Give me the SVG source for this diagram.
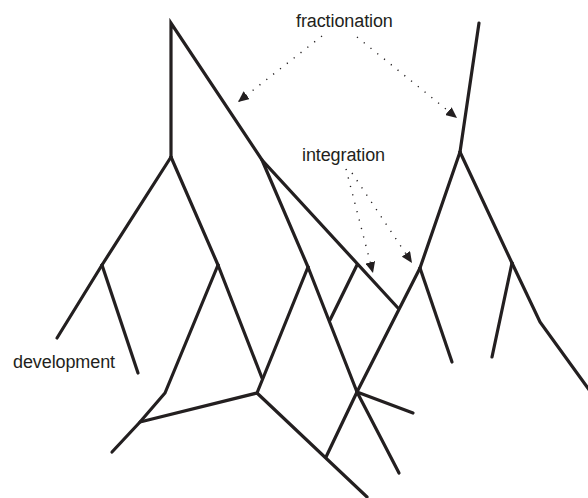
<svg xmlns="http://www.w3.org/2000/svg" width="588" height="498" viewBox="0 0 588 498">
<style>
.br{fill:none;stroke:#231f20;stroke-width:3.2;stroke-linecap:round;stroke-linejoin:miter}
.dot{fill:none;stroke:#231f20;stroke-width:1.4;stroke-dasharray:1.2 7.5;stroke-linecap:butt}
.lbl{font-family:"Liberation Sans",Arial,sans-serif;font-size:18px;fill:#231f20;letter-spacing:-0.1px}
</style>
<defs>
<marker id="ah" markerUnits="userSpaceOnUse" markerWidth="12" markerHeight="10" refX="11" refY="5" orient="auto">
<path d="M0,0 L11,5 L0,10 Z" fill="#231f20"/>
</marker>
</defs>
<rect width="588" height="498" fill="#ffffff"/>
<g id="connectors">
<g id="left-tree">
<polyline class="br" points="171,157 171,23 262,160 398,308"/>
<line class="br" x1="262" y1="160" x2="308" y2="267"/>
<line class="br" x1="308" y1="267" x2="357" y2="392"/>
<line class="br" x1="330" y1="320" x2="357" y2="265"/>
<line class="br" x1="171" y1="157" x2="102" y2="265"/>
<line class="br" x1="102" y1="265" x2="57" y2="338"/>
<line class="br" x1="102" y1="265" x2="138" y2="373"/>
<line class="br" x1="171" y1="157" x2="218" y2="265"/>
<line class="br" x1="218" y1="265" x2="262" y2="378"/>
<polyline class="br" points="218,265 165,393 140,422 112,452"/>
<line class="br" x1="140" y1="422" x2="257" y2="393"/>
<line class="br" x1="257" y1="393" x2="308" y2="267"/>
<line class="br" x1="257" y1="393" x2="367" y2="497"/>
<line class="br" x1="326" y1="457" x2="357" y2="392"/>
<line class="br" x1="357" y1="392" x2="420" y2="268"/>
<line class="br" x1="357" y1="392" x2="413" y2="413"/>
<line class="br" x1="357" y1="392" x2="399" y2="473"/>
</g>
<g id="right-tree">
<line class="br" x1="479" y1="23" x2="460" y2="152"/>
<line class="br" x1="460" y1="152" x2="420" y2="268"/>
<line class="br" x1="460" y1="152" x2="512" y2="263"/>
<line class="br" x1="420" y1="268" x2="452" y2="362"/>
<line class="br" x1="512" y1="263" x2="492" y2="357"/>
<polyline class="br" points="512,263 540,322 590,391"/>
</g>
<g id="arrows">
<line class="dot" x1="322" y1="36" x2="238" y2="102" marker-end="url(#ah)"/>
<line class="dot" x1="357" y1="37" x2="457" y2="118" marker-end="url(#ah)"/>
<line class="dot" x1="346" y1="169" x2="373" y2="273" marker-end="url(#ah)"/>
<line class="dot" x1="352" y1="173" x2="412" y2="263" marker-end="url(#ah)"/>
</g>
</g>
<g id="fractionation"><text class="lbl" x="296" y="27">fractionation</text></g>
<g id="integration"><text class="lbl" x="302" y="161">integration</text></g>
<g id="development"><text class="lbl" x="13" y="368">development</text></g>
</svg>
